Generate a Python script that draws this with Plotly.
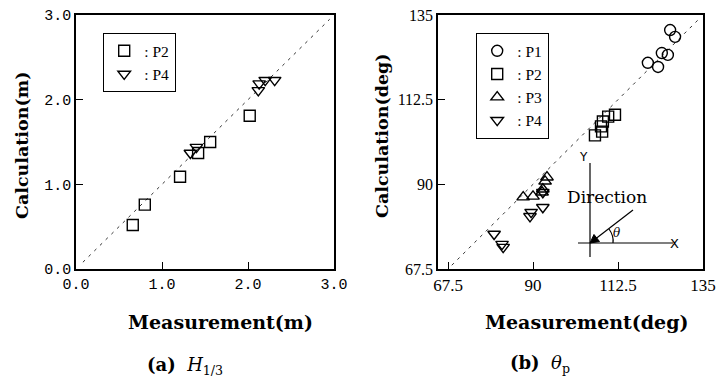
import plotly.graph_objects as go

# ---- data (a) H1/3 ----
a_p2_meas = [0.66, 0.80, 1.21, 1.42, 1.56, 2.02]
a_p2_calc = [0.52, 0.76, 1.09, 1.37, 1.50, 1.81]
a_p4_meas = [1.33, 1.40, 2.12, 2.13, 2.20, 2.31]
a_p4_calc = [1.37, 1.44, 2.11, 2.19, 2.23, 2.23]

# ---- data (b) theta_p ----
b_p1_meas = [120.4, 123.1, 124.1, 125.7, 126.3, 127.6]
b_p1_calc = [122.3, 121.2, 124.9, 124.4, 131.0, 129.2]
b_p2_meas = [106.4, 108.3, 108.0, 108.5, 109.9, 111.7]
b_p2_calc = [103.0, 104.0, 105.4, 106.7, 108.0, 108.5]
b_p3_meas = [87.4, 90.0, 92.4, 93.2, 93.7, 92.6]
b_p3_calc = [86.6, 86.8, 87.9, 90.8, 91.9, 88.7]
b_p4_meas = [79.7, 81.8, 82.1, 89.5, 89.2, 92.6, 92.6]
b_p4_calc = [76.8, 74.1, 73.3, 82.6, 81.5, 83.9, 87.9]

a_range = [0.0, 3.0]
a_ticks = [0.0, 1.0, 2.0, 3.0]
a_ticktext = ["0.0", "1.0", "2.0", "3.0"]
b_range_x = [64.85, 135.0]
b_range_y = [67.5, 135.0]
b_ticks = [67.5, 90, 112.5, 135]
b_ticktext = ["67.5", "90", "112.5", "135"]

fig = go.Figure()

LW = 1.4
MS = 11

# diagonal reference lines
fig.add_trace(go.Scatter(x=[0.08, 2.95], y=[0.08, 2.95], mode="lines",
                         line=dict(color="#333", width=1, dash="3px,5px"),
                         showlegend=False, xaxis="x", yaxis="y", hoverinfo="skip"))
fig.add_trace(go.Scatter(x=[68.5, 134], y=[68.5, 134], mode="lines",
                         line=dict(color="#333", width=1, dash="3px,5px"),
                         showlegend=False, xaxis="x2", yaxis="y2", hoverinfo="skip"))

def mk(sym):
    return dict(symbol=sym, size=MS, color="black", line=dict(color="black", width=LW))

fig.add_trace(go.Scatter(x=a_p2_meas, y=a_p2_calc, mode="markers", name=": P2",
                         marker=mk("square-open"), xaxis="x", yaxis="y", legend="legend"))
fig.add_trace(go.Scatter(x=a_p4_meas, y=a_p4_calc, mode="markers", name=": P4",
                         marker=mk("triangle-down-open"), xaxis="x", yaxis="y", legend="legend"))

fig.add_trace(go.Scatter(x=b_p1_meas, y=b_p1_calc, mode="markers", name=": P1",
                         marker=mk("circle-open"), xaxis="x2", yaxis="y2", legend="legend2"))
fig.add_trace(go.Scatter(x=b_p2_meas, y=b_p2_calc, mode="markers", name=": P2",
                         marker=mk("square-open"), xaxis="x2", yaxis="y2", legend="legend2"))
fig.add_trace(go.Scatter(x=b_p3_meas, y=b_p3_calc, mode="markers", name=": P3",
                         marker=mk("triangle-up-open"), xaxis="x2", yaxis="y2", legend="legend2"))
fig.add_trace(go.Scatter(x=b_p4_meas, y=b_p4_calc, mode="markers", name=": P4",
                         marker=mk("triangle-down-open"), xaxis="x2", yaxis="y2", legend="legend2"))

W, H = 718, 390
def px(x): return x / W
def py(y): return 1 - y / H

ydom = [py(269), py(15)]

axis_common = dict(showline=True, linecolor="black", linewidth=1.5, mirror=True,
                   ticks="inside", ticklen=7, tickwidth=1.3, tickcolor="black",
                   showgrid=False, zeroline=False, automargin=False)

mono = dict(family="Liberation Mono", size=15, color="black")
serif_x = dict(family="Liberation Serif", size=17, color="black")
serif_y = dict(family="Liberation Serif", size=16, color="black")
leg_font = dict(family="Liberation Serif", size=15.5, color="black")

fig.update_layout(
    width=W, height=H,
    margin=dict(l=0, r=0, t=0, b=0, autoexpand=False),
    paper_bgcolor="white", plot_bgcolor="white",
    xaxis=dict(domain=[px(76), px(334)], range=a_range, tickvals=a_ticks, ticktext=a_ticktext,
               tickfont=mono, anchor="y", **axis_common),
    yaxis=dict(domain=ydom, range=a_range, tickvals=a_ticks, ticktext=a_ticktext,
               tickfont=mono, anchor="x", **axis_common),
    xaxis2=dict(domain=[px(438), px(703)], range=b_range_x, tickvals=b_ticks, ticktext=b_ticktext,
                tickfont=serif_x, anchor="y2", **axis_common),
    yaxis2=dict(domain=ydom, range=b_range_y, tickvals=b_ticks, ticktext=b_ticktext,
                tickfont=serif_y, anchor="x2", **axis_common),
    legend=dict(x=px(103), y=py(33), xanchor="left", yanchor="top",
                bordercolor="black", borderwidth=1.2, bgcolor="white",
                font=leg_font, itemwidth=30, tracegroupgap=0),
    legend2=dict(x=px(476), y=py(33), xanchor="left", yanchor="top",
                 bordercolor="black", borderwidth=1.2, bgcolor="white",
                 font=leg_font, itemwidth=30, tracegroupgap=0),
    showlegend=True,
)

title_font = dict(family="DejaVu Serif", size=19, color="black")
vtitle_font = dict(family="DejaVu Serif", size=17.5, color="black")
ann = [
    dict(text="<b>Calculation(m)</b>", x=px(22), y=py(145), textangle=-90, font=vtitle_font),
    dict(text="<b>Measurement(m)</b>", x=px(220), y=py(322), font=title_font),
    dict(text="<b>Calculation(deg)</b>", x=px(382), y=py(136), textangle=-90, font=vtitle_font),
    dict(text="<b>Measurement(deg)</b>", x=px(586), y=py(322), font=title_font),
    dict(text="<b>(a)</b>  <i>H</i><sub>1/3</sub>", x=px(185), y=py(366),
         font=dict(family="DejaVu Serif", size=18, color="black")),
    dict(text="<b>(b)</b>  <i>θ</i><sub>p</sub>", x=px(540), y=py(364),
         font=dict(family="DejaVu Serif", size=18, color="black")),
]
annotations = []
for a in ann:
    a.update(xref="paper", yref="paper", showarrow=False, xanchor="center", yanchor="middle")
    annotations.append(a)

# inset: coordinate sketch in panel (b)
annotations += [
    dict(text="Direction", x=px(649), y=py(197), xref="paper", yref="paper", showarrow=False,
         font=dict(family="DejaVu Serif", size=17, color="black")),
    dict(text="Y", x=px(590), y=py(157), xref="paper", yref="paper", showarrow=False,
         font=dict(family="DejaVu Sans", size=12, color="black")),
    dict(text="X", x=px(681), y=py(243), xref="paper", yref="paper", showarrow=False,
         font=dict(family="DejaVu Sans", size=13, color="black")),
    dict(text="<i>θ</i>", x=px(623), y=py(233), xref="paper", yref="paper", showarrow=False,
         font=dict(family="DejaVu Serif", size=12, color="black")),
]
fig.update_layout(annotations=annotations)

# arrow: tail (633,210) -> head (590,243)
shapes = [
    dict(type="line", xref="paper", yref="paper", x0=px(590), x1=px(590), y0=py(163), y1=py(257),
         line=dict(color="black", width=1.2)),
    dict(type="line", xref="paper", yref="paper", x0=px(578), x1=px(673), y0=py(243), y1=py(243),
         line=dict(color="black", width=1.2)),
    dict(type="line", xref="paper", yref="paper", x0=px(633), x1=px(596), y0=py(210), y1=py(238.5),
         line=dict(color="black", width=1.2)),
    dict(type="path", xref="paper", yref="paper",
         path="M %f,%f L %f,%f L %f,%f Z" % (px(590), py(243), px(594), py(234.5), px(599.5), py(241.5)),
         fillcolor="black", line=dict(color="black", width=1)),
    dict(type="path", xref="paper", yref="paper",
         path="M %f,%f Q %f,%f %f,%f" % (px(613), py(243), px(614), py(236), px(609), py(229)),
         line=dict(color="black", width=1.2)),
]
fig.update_layout(shapes=shapes)

fig.write_html("out.html", config={"displayModeBar": False},
               post_script="document.body.style.margin='0px';document.body.style.overflow='hidden';")
